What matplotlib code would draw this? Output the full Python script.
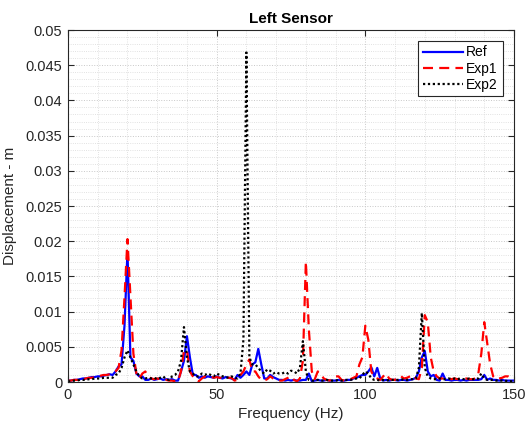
import numpy as np
import matplotlib
matplotlib.use("Agg")
import matplotlib.pyplot as plt
from matplotlib.ticker import MultipleLocator

plt.rcParams['font.family'] = ['Liberation Sans', 'DejaVu Sans']

freq = np.arange(0, 151, 1)

# values in mm (converted to m below)
ref_mm = [
    0.2, 0.2, 0.3, 0.3, 0.4, 0.5, 0.5, 0.6, 0.7, 0.7,   # 0-9
    0.8, 0.8, 0.9, 1.0, 1.1, 1.0, 1.5, 2.2, 2.5, 8.0,   # 10-19
    18.5, 3.5, 3.0, 1.2, 0.8, 0.8, 0.3, 0.3, 0.5, 0.3,  # 20-29
    0.4, 0.5, 0.3, 0.4, 0.3, 0.4, 0.2, 0.2, 1.5, 3.0,   # 30-39
    6.5, 3.5, 1.0, 1.0, 0.6, 0.8, 0.6, 0.8, 0.7, 0.6,   # 40-49
    0.8, 0.6, 0.5, 0.7, 0.6, 0.5, 0.3, 1.0, 0.6, 1.0,   # 50-59
    1.5, 1.0, 2.5, 2.8, 4.7, 2.5, 0.5, 0.5, 1.0, 0.7,   # 60-69
    0.5, 0.3, 0.3, 0.2, 0.3, 0.2, 0.3, 0.2, 0.2, 0.3,   # 70-79
    0.3, 1.2, 0.1, 0.2, 0.3, 0.2, 0.2, 0.3, 0.2, 0.2,   # 80-89
    0.2, 0.3, 0.2, 0.2, 0.3, 0.3, 0.5, 0.6, 0.8, 1.0,   # 90-99
    1.0, 1.5, 2.1, 0.8, 2.0, 0.5, 0.2, 0.3, 0.2, 0.3,   # 100-109
    0.3, 0.2, 0.3, 0.3, 0.2, 0.3, 0.4, 0.6, 1.5, 3.5,   # 110-119
    4.4, 1.5, 0.8, 1.0, 0.3, 0.2, 1.2, 0.3, 0.3, 0.2,   # 120-129
    0.3, 0.3, 0.2, 0.3, 0.2, 0.3, 0.3, 0.3, 0.3, 0.4,   # 130-139
    1.0, 0.3, 0.5, 0.3, 0.3, 0.2, 0.3, 0.2, 0.2, 0.2,   # 140-149
    0.2,                                                # 150
]

exp1_mm = [
    0.2, 0.2, 0.3, 0.3, 0.4, 0.4, 0.5, 0.6, 0.6, 0.7,   # 0-9
    0.8, 0.9, 1.0, 1.0, 1.1, 1.2, 1.5, 2.0, 4.5, 12.0,  # 10-19
    20.3, 12.0, 4.0, 1.2, 0.5, 1.2, 1.5, 0.8, 0.5, 0.4, # 20-29
    0.5, 0.4, 0.3, 0.3, 0.2, 0.2, 0.1, 0.1, 1.5, 4.5,   # 30-39
    4.5, 1.5, 0.8, 0.3, 0.1, 0.5, 0.8, 0.7, 0.8, 0.6,   # 40-49
    0.7, 0.6, 0.6, 0.5, 0.6, 0.6, 0.2, 0.3, 1.0, 1.5,   # 50-59
    2.5, 3.2, 1.5, 1.5, 0.8, 0.3, 0.2, 0.4, 0.8, 0.5,   # 60-69
    0.3, 0.2, 0.2, 0.4, 0.6, 0.8, 0.3, 0.1, 0.5, 3.0,   # 70-79
    17.1, 7.5, 1.5, 0.4, 1.5, 1.2, 0.5, 0.3, 0.2, 0.5,  # 80-89
    0.8, 0.8, 0.3, 0.2, 0.3, 0.4, 0.6, 0.8, 2.5, 3.5,   # 90-99
    8.0, 6.0, 1.5, 0.7, 0.5, 0.3, 0.8, 1.2, 0.5, 0.3,   # 100-109
    0.3, 0.8, 0.8, 0.5, 0.6, 0.8, 1.0, 0.5, 0.4, 2.0,   # 110-119
    9.5, 8.5, 3.5, 1.5, 0.8, 0.5, 0.5, 0.4, 0.5, 0.4,   # 120-129
    0.5, 0.4, 0.5, 0.4, 0.5, 0.4, 0.4, 0.5, 1.2, 4.0,   # 130-139
    8.5, 5.5, 2.5, 0.8, 0.4, 0.5, 0.6, 0.8, 0.8, 0.5,   # 140-149
    0.3,                                                # 150
]

exp2_mm = [
    0.1, 0.1, 0.2, 0.2, 0.3, 0.3, 0.3, 0.4, 0.4, 0.5,   # 0-9
    0.5, 0.5, 0.6, 0.6, 0.6, 0.6, 1.0, 1.2, 2.0, 3.5,   # 10-19
    4.5, 3.5, 2.5, 1.5, 0.8, 0.5, 0.5, 0.6, 0.5, 0.6,   # 20-29
    0.4, 0.6, 0.8, 0.4, 0.3, 0.8, 1.0, 1.5, 3.0, 7.8,   # 30-39
    3.5, 1.5, 1.2, 0.8, 0.8, 1.2, 1.0, 1.2, 1.0, 0.8,   # 40-49
    1.2, 1.0, 0.8, 0.7, 0.6, 0.8, 0.6, 0.5, 1.2, 6.0,   # 50-59
    46.8, 3.5, 2.5, 2.5, 2.0, 1.5, 1.2, 1.8, 1.6, 1.2,  # 60-69
    1.4, 1.2, 1.2, 1.4, 1.2, 1.6, 1.5, 1.2, 2.0, 5.8,   # 70-79
    1.5, 0.3, 0.2, 0.2, 0.3, 0.2, 0.2, 0.3, 0.2, 0.2,   # 80-89
    0.2, 0.3, 0.2, 0.3, 0.3, 0.3, 0.4, 0.5, 0.5, 1.0,   # 90-99
    1.5, 1.2, 0.5, 0.3, 0.3, 0.2, 0.3, 0.2, 0.3, 0.3,   # 100-109
    0.3, 0.3, 0.4, 0.3, 0.3, 0.4, 0.4, 0.5, 2.0, 9.8,   # 110-119
    2.0, 0.8, 0.5, 0.4, 0.4, 0.5, 0.4, 0.4, 0.5, 0.4,   # 120-129
    0.5, 0.4, 0.5, 0.4, 0.4, 0.5, 0.4, 0.4, 0.5, 1.2,   # 130-139
    0.5, 0.3, 0.3, 0.3, 0.2, 0.2, 0.2, 0.2, 0.1, 0.1,   # 140-149
    0.1,                                                # 150
]

series_names = ["Ref", "Exp1", "Exp2"]
x_ticks = [0, 50, 100, 150]
y_ticks = [0, 0.005, 0.01, 0.015, 0.02, 0.025, 0.03, 0.035, 0.04, 0.045, 0.05]
y_tick_labels = ['0', '0.005', '0.01', '0.015', '0.02', '0.025', '0.03',
                 '0.035', '0.04', '0.045', '0.05']

ref = np.array(ref_mm) / 1000.0
exp1 = np.array(exp1_mm) / 1000.0
exp2 = np.array(exp2_mm) / 1000.0

fig = plt.figure(figsize=(5.26, 4.25), dpi=100)
ax = fig.add_axes([68/526, 1 - 382/425, (514-68)/526, (382-30)/425])

ax.plot(freq, ref, color=(0, 0, 1), lw=1.6, ls='-', label=series_names[0])
ax.plot(freq, exp1, color=(1, 0, 0), lw=1.6, ls=(0, (4.5, 2.8)), label=series_names[1])
ax.plot(freq, exp2, color='black', lw=1.6, ls=(0, (1, 1.2)), label=series_names[2])

ax.set_xlim(0, 150)
ax.set_ylim(0, 0.05)
ax.set_xticks(x_ticks)
ax.set_xticklabels([str(v) for v in x_ticks])
ax.set_yticks(y_ticks)
ax.set_yticklabels(y_tick_labels)
ax.xaxis.set_minor_locator(MultipleLocator(10))
ax.yaxis.set_minor_locator(MultipleLocator(0.001))

ax.grid(True, which='major', color='#c8c8c8', ls=':', lw=0.7)
ax.grid(True, which='minor', color='#d8d8d8', ls=':', lw=0.6)
ax.set_axisbelow(True)

ax.tick_params(which='major', direction='in', top=True, right=True,
               length=4, width=0.8, labelsize=10.5, colors='#262626',
               labelcolor='#262626', pad=4)
ax.tick_params(which='minor', length=0, top=True, right=True)
for s in ax.spines.values():
    s.set_color('#262626')
    s.set_linewidth(0.8)

ax.set_xlabel('Frequency (Hz)', fontsize=11, color='#262626', labelpad=4)
ax.set_ylabel('Displacement - m', fontsize=11, color='#262626', labelpad=6)
ax.set_title('Left Sensor', fontsize=11, fontweight='bold', pad=5)

leg = ax.legend(loc='upper right', bbox_to_anchor=(0.975, 0.97), fontsize=10,
                handlelength=2.9, handletextpad=0.2, borderpad=0.35,
                labelspacing=0.15, fancybox=False, framealpha=1,
                borderaxespad=0)
leg.get_frame().set_edgecolor('#262626')
leg.get_frame().set_linewidth(0.8)

fig.savefig('out.png', dpi=100)
